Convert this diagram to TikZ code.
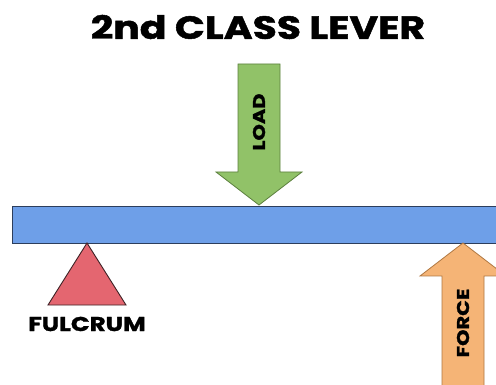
\documentclass[tikz,border=0pt]{standalone}
\usepackage{fontspec}
\setsansfont{Poppins}[FakeStretch=1.23, BoldFeatures={FakeBold=1.5}]
\usepackage{tikz}
\definecolor{beamblue}{RGB}{110,159,232}
\definecolor{beamedge}{RGB}{45,62,92}
\definecolor{loadgreen}{RGB}{145,194,104}
\definecolor{loadedge}{RGB}{92,128,62}
\definecolor{fulcred}{RGB}{228,102,112}
\definecolor{fulcedge}{RGB}{62,34,38}
\definecolor{forceorange}{RGB}{245,180,118}
\definecolor{forceedge}{RGB}{176,120,66}

\begin{document}
\begin{tikzpicture}[x=1pt,y=-1pt,
    lbl/.style={font=\sffamily\bfseries\fontsize{17}{17}\selectfont, text=black, inner sep=0pt}]
    % Frame
    \useasboundingbox (0,0) rectangle (496,385);
    \clip (0,0) rectangle (496,385);
    \fill[white] (0,0) rectangle (496,385);

    % Title
    \node[lbl, font=\sffamily\bfseries\fontsize{32}{32}\selectfont] (title) at (258,27) {2nd CLASS LEVER};

    % Load arrow
    \draw[fill=loadgreen, draw=loadedge, line width=0.8pt]
        (238,64) -- (280,64) -- (280,172) -- (302,172) -- (259,205) -- (216,172) -- (238,172) -- cycle;
    \node[lbl, rotate=90] (load) at (259,122) {LOAD};

    % Beam
    \draw[fill=beamblue, draw=beamedge, line width=0.9pt] (12,206) rectangle (505,243);

    % Fulcrum
    \draw[fill=fulcred, draw=fulcedge, line width=0.9pt] (87,243) -- (126,305) -- (48,305) -- cycle;
    \node[lbl, font=\sffamily\bfseries\fontsize{20}{20}\selectfont] (fulcrum) at (87,324) {FULCRUM};

    % Force arrow
    \draw[fill=forceorange, draw=forceedge, line width=0.8pt]
        (463,243) -- (506,276) -- (484,276) -- (484,392) -- (442,392) -- (442,276) -- (420,276) -- cycle;
    \node[lbl, rotate=90] (force) at (463,323) {FORCE};
\end{tikzpicture}
\end{document}
